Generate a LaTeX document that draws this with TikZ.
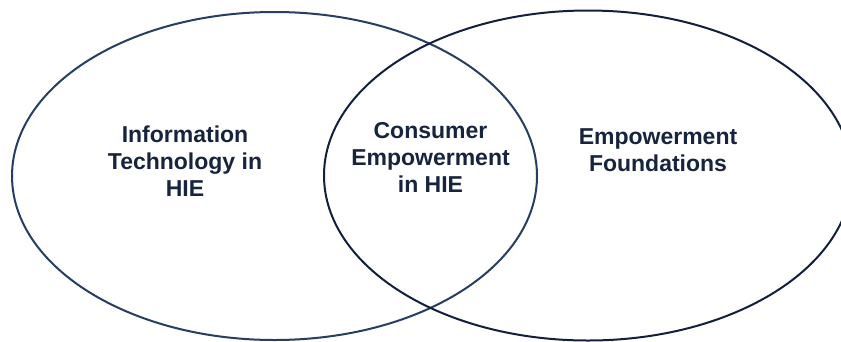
\documentclass[tikz,border=0pt]{standalone}
\usepackage{fontspec}
\setmainfont{Liberation Sans}
\definecolor{leftline}{RGB}{38,62,98}
\definecolor{rightline}{RGB}{18,32,62}
\definecolor{txt}{RGB}{22,36,62}
\tikzset{
  ring/.style={line width=2pt},
  lbl/.style={align=center, text=txt, font=\fontsize{23}{27}\selectfont\bfseries, inner sep=0pt, anchor=base}
}
\begin{document}
\begin{tikzpicture}[x=1pt,y=-1pt]
\useasboundingbox (0,0) rectangle (841,341);
\fill[white] (0,0) rectangle (841,341);
\draw[ring, leftline] (274.5,176) ellipse [x radius=262.5, y radius=164];
\draw[ring, rightline] (588,175.5) ellipse [x radius=264, y radius=165];
\node[lbl] (it) at (185,196) {Information\\Technology in\\HIE};
\node[lbl] (ce) at (430.5,192) {Consumer\\Empowerment\\in HIE};
\node[lbl] (ef) at (658,171) {Empowerment\\Foundations};
\end{tikzpicture}
\end{document}
